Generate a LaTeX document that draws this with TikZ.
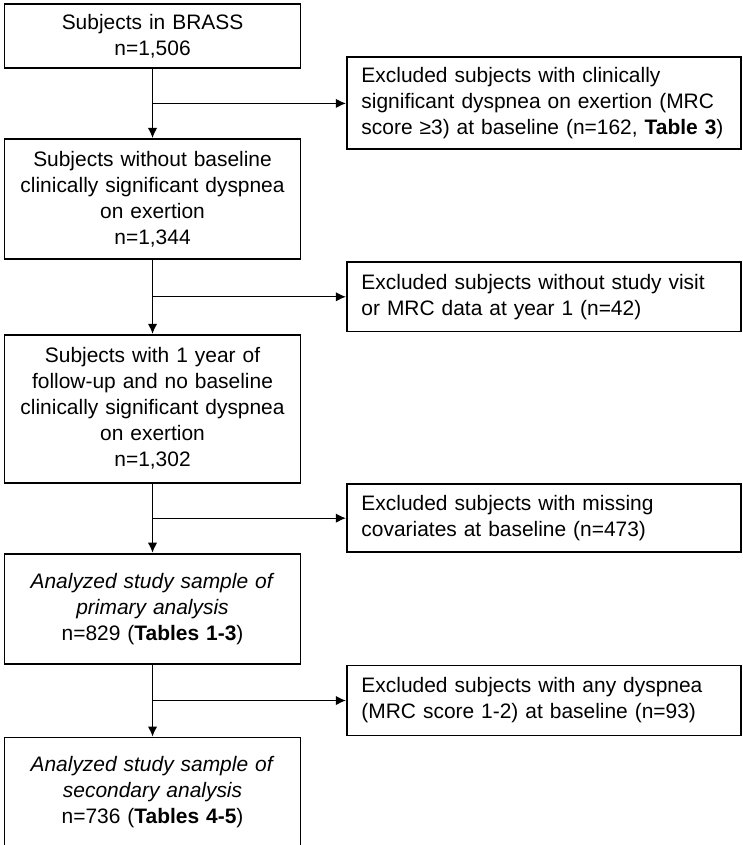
\documentclass[tikz,border=0pt]{standalone}
\usepackage{fontspec}
\setmainfont{Liberation Sans}
\usepackage{tikz}
\usetikzlibrary{arrows.meta}
\usetikzlibrary{positioning,calc}
\tikzstyle{block} = [rectangle, draw, fill=white, text width=205pt, align=center,
inner xsep=8.5pt, inner ysep=0pt, line width=1.4pt]
\tikzstyle{excl} = [rectangle, draw, fill=white, text width=273.5pt, align=left,
inner xsep=11pt, inner ysep=0pt, line width=1.4pt]
\tikzstyle{line} = [draw, -{Latex[length=7.5pt,width=7pt]}, line width=0.8pt]

\begin{document}
\begin{tikzpicture}[font=\fontsize{15.7pt}{19.5pt}\selectfont]
\useasboundingbox (-114.4pt,27pt) rectangle (442.1pt,-606.75pt);
% Main column
	\node [block, minimum height=48pt] (brass) at (0,0) {Subjects in BRASS\\n=1,506};
	\node [block, minimum height=90pt, below=51.75pt of brass] (nodysp) {Subjects without baseline\\clinically significant dyspnea\\on exertion\\n=1,344};
	\node [block, minimum height=111pt, below=55.5pt of nodysp] (followup) {Subjects with 1 year of\\follow-up and no baseline\\clinically significant dyspnea\\on exertion\\n=1,302};
	\node [block, minimum height=82.5pt, below=51.75pt of followup] (primary) {\textit{Analyzed study sample of}\\\textit{primary analysis}\\n=829 (\textbf{Tables 1-3})};
	\node [block, minimum height=82.5pt, below=54pt of primary] (secondary) {\textit{Analyzed study sample of}\\\textit{secondary analysis}\\n=736 (\textbf{Tables 4-5})};

% Branch points
	\coordinate (br1) at ($(brass.south)!0.5!(nodysp.north)$);
	\coordinate (br2) at ($(nodysp.south)!0.5!(followup.north)$);
	\coordinate (br3) at ($(followup.south)!0.5!(primary.north)$);
	\coordinate (br4) at ($(primary.south)!0.5!(secondary.north)$);

% Exclusions
	\node [excl, minimum height=69pt, right=145pt of br1, anchor=west] (excl1) {Excluded subjects with clinically\\significant dyspnea on exertion (MRC\\score ≥3) at baseline (n=162, \textbf{Table 3})};
	\node [excl, minimum height=52pt, right=145pt of br2, anchor=west] (excl2) {Excluded subjects without study visit\\or MRC data at year 1 (n=42)};
	\node [excl, minimum height=51pt, right=145pt of br3, anchor=west] (excl3) {Excluded subjects with missing\\covariates at baseline (n=473)};
	\node [excl, minimum height=52.5pt, right=145pt of br4, anchor=west] (excl4) {Excluded subjects with any dyspnea\\(MRC score 1-2) at baseline (n=93)};

% Draw edges
	\path [line] (brass) -- (nodysp);
	\path [line] (nodysp) -- (followup);
	\path [line] (followup) -- (primary);
	\path [line] (primary) -- (secondary);
	\path [line] (br1) -- (excl1);
	\path [line] (br2) -- (excl2);
	\path [line] (br3) -- (excl3);
	\path [line] (br4) -- (excl4);

\end{tikzpicture}
\end{document}
